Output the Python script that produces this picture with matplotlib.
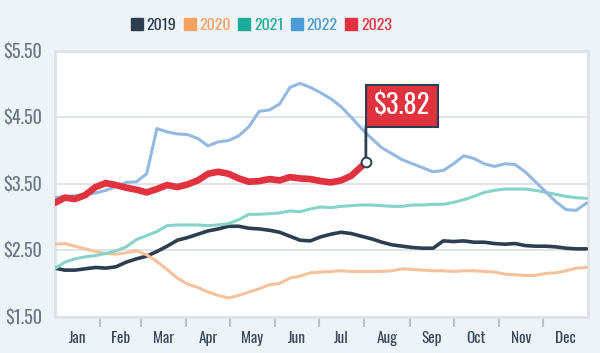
import numpy as np
import matplotlib
matplotlib.use("Agg")
from matplotlib import pyplot as plt
from matplotlib import font_manager
from matplotlib.lines import Line2D

# weekly samples, day of year
days = np.arange(0, 365, 7)

y2019 = [2.23, 2.20, 2.20, 2.22, 2.24, 2.23, 2.25, 2.32, 2.37, 2.41, 2.48, 2.56, 2.65, 2.69,
         2.74, 2.79, 2.82, 2.86, 2.86, 2.83, 2.82, 2.80, 2.77, 2.71, 2.65, 2.64, 2.70,
         2.74, 2.77, 2.75, 2.71, 2.67, 2.62, 2.58, 2.56, 2.54, 2.53, 2.53, 2.64, 2.63,
         2.64, 2.62, 2.62, 2.60, 2.59, 2.60, 2.57, 2.56, 2.56, 2.55, 2.53, 2.52, 2.52]
y2020 = [2.59, 2.60, 2.56, 2.52, 2.48, 2.45, 2.44, 2.46, 2.49, 2.43, 2.33, 2.21, 2.08, 1.99,
         1.94, 1.87, 1.82, 1.78, 1.82, 1.87, 1.92, 1.98, 2.00, 2.08, 2.11, 2.16, 2.17,
         2.18, 2.19, 2.18, 2.18, 2.18, 2.18, 2.19, 2.22, 2.21, 2.20, 2.19, 2.19, 2.18,
         2.19, 2.19, 2.18, 2.17, 2.14, 2.13, 2.12, 2.12, 2.15, 2.16, 2.19, 2.23, 2.24]
y2021 = [2.22, 2.32, 2.37, 2.40, 2.42, 2.45, 2.49, 2.55, 2.66, 2.72, 2.78, 2.87, 2.88, 2.88,
         2.88, 2.87, 2.88, 2.90, 2.96, 3.04, 3.04, 3.05, 3.06, 3.09, 3.08, 3.12, 3.15,
         3.14, 3.16, 3.17, 3.18, 3.18, 3.17, 3.16, 3.16, 3.18, 3.18, 3.19, 3.19, 3.22,
         3.26, 3.31, 3.37, 3.40, 3.42, 3.42, 3.42, 3.40, 3.37, 3.34, 3.31, 3.29, 3.28]
y2022 = [3.29, 3.31, 3.32, 3.34, 3.36, 3.40, 3.46, 3.52, 3.53, 3.65, 4.33, 4.28, 4.25, 4.24,
         4.18, 4.07, 4.13, 4.15, 4.22, 4.36, 4.59, 4.61, 4.70, 4.95, 5.01, 4.95, 4.87,
         4.78, 4.66, 4.50, 4.33, 4.18, 4.04, 3.95, 3.86, 3.80, 3.74, 3.68, 3.70, 3.80,
         3.92, 3.88, 3.80, 3.76, 3.80, 3.79, 3.68, 3.53, 3.38, 3.23, 3.11, 3.10, 3.21]
days2023 = list(range(0, 211, 7)) + [213]
y2023 = [3.21, 3.29, 3.27, 3.33, 3.45, 3.51, 3.48, 3.44, 3.41, 3.37, 3.42, 3.48, 3.45, 3.49,
         3.55, 3.65, 3.68, 3.65, 3.58, 3.53, 3.54, 3.57, 3.55, 3.60, 3.58, 3.57, 3.54,
         3.52, 3.55, 3.62, 3.76, 3.82]

years = ["2019", "2020", "2021", "2022", "2023"]
key_colors = ["#2c3e50", "#f4a261", "#1aab9b", "#4a9bd6", "#e0323f"]
line_colors = ["#2c3e50", "#f6c29c", "#86d3cb", "#93b9e0", "#e0323f"]
line_widths = [2.6, 2.2, 2.2, 2.2, 4.8]

month_starts = [0, 31, 59, 90, 120, 151, 181, 212, 243, 273, 304, 334, 365]
month_names = ["Jan", "Feb", "Mar", "Apr", "May", "Jun",
               "Jul", "Aug", "Sep", "Oct", "Nov", "Dec"]
price_ticks = [1.5, 2.5, 3.5, 4.5, 5.5]

# condensed face like the original; fall back to whatever is there
installed = {f.name for f in font_manager.fontManager.ttflist}
wanted = ["Oswald", "Roboto Condensed", "Archivo Narrow", "Sofia Sans Condensed",
          "Asap Condensed", "Liberation Sans Narrow"]
narrow = next((n for n in wanted if n in installed), "DejaVu Sans")
plt.rcParams["font.family"] = [narrow, "DejaVu Sans"]

bg = "#eef3f8"
dark = "#2c3e50"
fig = plt.figure(figsize=(6, 3.53), dpi=100, facecolor=bg)
ax = fig.add_axes([0.091, 0.103, 0.889, 0.753])
ax.set_facecolor("white")

series = [y2019, y2020, y2021, y2022]
for vals, c, lw in zip(series, line_colors, line_widths):
    ax.plot(days, vals, color=c, lw=lw, solid_capstyle="round", zorder=3)
ax.plot(days2023, y2023, color=line_colors[4], lw=line_widths[4],
        solid_capstyle="round", zorder=4)

ax.set_xlim(0, 365)
ax.set_ylim(1.5, 5.5)
ax.set_yticks(price_ticks)
ax.set_yticklabels([f"${p:.2f}" for p in price_ticks])
ax.grid(axis="y", color="#dcdfe3", lw=1.2, zorder=1)
ax.tick_params(axis="y", length=0, pad=9, labelsize=13, labelcolor="#6b7785")

centers = [(a + b) / 2 for a, b in zip(month_starts[:-1], month_starts[1:])]
ax.set_xticks(centers)
ax.set_xticklabels(month_names, fontweight="bold")
ax.tick_params(axis="x", which="major", length=0, pad=10, labelsize=11, labelcolor="#3a4a5e")
ax.set_xticks(month_starts[1:-1], minor=True)
ax.tick_params(axis="x", which="minor", length=7, width=1.5, color="#b8c0ca", direction="out")

for s in ax.spines.values():
    s.set_color("#dde2e8")
    s.set_linewidth(2)

# flag on the latest 2023 price: pole straight up, box sitting on top of it
x_end, y_end = days2023[-1], y2023[-1]
pole = 36
ax.annotate("", xy=(x_end, y_end), xytext=(0, pole), textcoords="offset pixels",
            arrowprops=dict(arrowstyle="-", color=dark, lw=2, shrinkA=0, shrinkB=0),
            zorder=6)
ax.annotate(f"${y_end:.2f}", xy=(x_end, y_end), xytext=(8, pole + 7),
            textcoords="offset pixels", ha="left", va="bottom",
            color="white", fontsize=19, fontweight="bold",
            bbox=dict(boxstyle="square,pad=0.3", fc=key_colors[4], ec=dark, lw=1.5),
            zorder=6)
ax.plot([x_end], [y_end], marker="o", ms=7, mfc="white", mec=dark, mew=1.4, zorder=7)

handles = [Line2D([], [], marker="s", ls="", ms=9, color=c) for c in key_colors]
leg = fig.legend(handles, years, loc="center", bbox_to_anchor=(0.437, 0.928), ncol=5,
                 frameon=False, handlelength=0.55, handletextpad=0.35, columnspacing=0.55,
                 borderpad=0.2, prop={"size": 11.5, "weight": "bold"})
for t, c in zip(leg.get_texts(), key_colors):
    t.set_color(c)

fig.savefig("out.png", dpi=100, facecolor=bg)
